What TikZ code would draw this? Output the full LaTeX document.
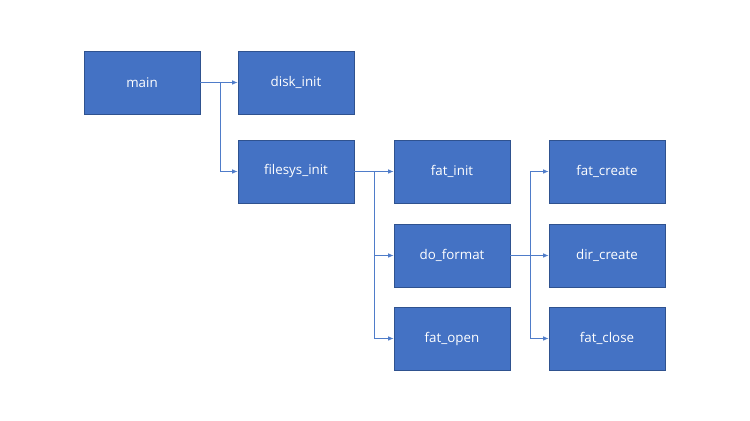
\documentclass[tikz,border=0pt]{standalone}
\usepackage{fontspec}
\setmainfont{Open Sans}
\usetikzlibrary{arrows.meta}
\definecolor{boxfill}{HTML}{4472C4}
\definecolor{boxline}{HTML}{2F528F}
\definecolor{linkcol}{HTML}{4F7CC9}
\tikzset{
  fn/.style={draw=boxline,fill=boxfill,line width=0.4pt,minimum width=2.32cm,minimum height=1.26cm,
    inner sep=0pt,text=white,font=\fontsize{7.6}{9}\selectfont},
  link/.style={draw=linkcol,line width=0.45pt,-{Latex[length=1.1mm,width=0.9mm]}}
}
\begin{document}
\begin{tikzpicture}[x=0.02cm,y=-0.02cm]
  \useasboundingbox (0,0) rectangle (750,421);
  \node[fn] (main) at (142,82.5) {main};
  \node[fn] (diskinit) at (296,82.5) {disk\_init};
  \node[fn] (filesys) at (296,171.5) {filesys\_init};
  \node[fn] (fatinit) at (452,171.5) {fat\_init};
  \node[fn] (doformat) at (452,255.5) {do\_format};
  \node[fn] (fatopen) at (452,338.5) {fat\_open};
  \node[fn] (fatcreate) at (607,171.5) {fat\_create};
  \node[fn] (dircreate) at (607,255.5) {dir\_create};
  \node[fn] (fatclose) at (607,338.5) {fat\_close};
  % junctions
  \coordinate (j1) at (220,82.5);
  \coordinate (j2) at (374,171.5);
  \coordinate (j3) at (530,255.5);
  % main calls
  \draw[link] (main.east) -- (diskinit.west);
  \draw[link] (j1) |- (filesys.west);
  % filesys_init calls
  \draw[link] (filesys.east) -- (fatinit.west);
  \draw[link] (j2) |- (doformat.west);
  \draw[link] (j2) |- (fatopen.west);
  % do_format calls
  \draw[link] (doformat.east) -- (dircreate.west);
  \draw[link] (j3) |- (fatcreate.west);
  \draw[link] (j3) |- (fatclose.west);
\end{tikzpicture}
\end{document}
